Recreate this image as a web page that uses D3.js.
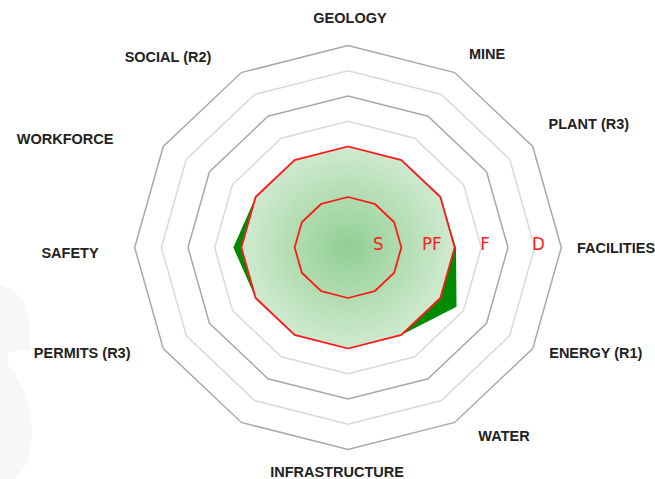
<!DOCTYPE html>
<html><head><meta charset="utf-8">
<script src="https://cdn.jsdelivr.net/npm/d3@7"></script>
<style>body{margin:0;background:#fff;overflow:hidden}</style>
</head><body><svg id="c" width="655" height="479"></svg>
<script>
// ---- data ----
const categories = ["GEOLOGY","MINE","PLANT (R3)","FACILITIES","ENERGY (R1)","WATER","INFRASTRUCTURE","","PERMITS (R3)","SAFETY","WORKFORCE","SOCIAL (R2)"];
const projectValues = [4, 4, 4, 4.05, 4.7, 4, 4, 4, 4, 4.3, 4, 4];
const pfValues = [4, 4, 4, 4, 4, 4, 4, 4, 4, 4, 4, 4];
const sValues  = [2, 2, 2, 2, 2, 2, 2, 2, 2, 2, 2, 2];
const gridLevels = [1, 2, 3, 4, 5, 6, 7, 8];
const levelLabels = ["S", "PF", "F", "D"];
const levelLabelValues = [2, 4, 6, 8];

// ---- layout ----
const W = 655, H = 479;
const cx = 348, cy = 247.5, sx = 1.056;
const maxLevel = 8, outerR = 202;
const labelAx = 270, labelAy = 228;
const labelNudge = [[2,-1.5],[4,4],[7,-10],[-2,0],[14,-9],[21,-9],[-11,-4],[0,0],[-32,-9],[-8,5],[-49,5],[-45,7]];

const svg = d3.select("#c");
const r = d3.scaleLinear().domain([0, maxLevel]).range([0, outerR]);
const ang = d3.scalePoint().domain(d3.range(categories.length)).range([0, 2*Math.PI*(categories.length-1)/categories.length]);
const px = (i, v) => cx + r(v) * Math.sin(ang(i)) * sx;
const py = (i, v) => cy - r(v) * Math.cos(ang(i));
const ring = vals => d3.line().x((d,i)=>px(i,d)).y((d,i)=>py(i,d)).curve(d3.curveLinearClosed)(vals);

// faint watermark at left edge
svg.append("path")
  .attr("d", "M0,285 C18,290 30,305 30,330 L30,350 L8,352 L8,365 C20,380 32,400 32,430 C32,455 25,470 15,479 L0,479 Z")
  .attr("fill", "#f7f7f7");

// grid rings
svg.append("g").selectAll("path").data(gridLevels).join("path")
  .attr("d", l => ring(categories.map(() => l)))
  .attr("fill", "none")
  .attr("stroke", l => l % 2 === 0 ? "#a9a9a9" : "#d9d9d9")
  .attr("stroke-width", 1.5);

// gradient
const defs = svg.append("defs");
const grad = defs.append("radialGradient").attr("id", "g1")
  .attr("gradientUnits", "userSpaceOnUse")
  .attr("cx", cx).attr("cy", cy).attr("r", r(4) * sx)
  .attr("gradientTransform", `translate(${cx},${cy}) scale(1,${1/sx}) translate(${-cx},${-cy})`);
grad.append("stop").attr("offset", "0%").attr("stop-color", "#92cf92");
grad.append("stop").attr("offset", "100%").attr("stop-color", "#d0ead0");

// project series (solid green)
svg.append("path").attr("d", ring(projectValues)).attr("fill", "#008a00").attr("stroke", "none");
// PF area with gradient
svg.append("path").attr("d", ring(pfValues)).attr("fill", "url(#g1)").attr("stroke", "#ff1a1a").attr("stroke-width", 1.8).attr("stroke-linejoin", "round");
// S ring
svg.append("path").attr("d", ring(sValues)).attr("fill", "none").attr("stroke", "#ff1a1a").attr("stroke-width", 1.8).attr("stroke-linejoin", "round");

// level labels
svg.append("g").selectAll("text").data(levelLabels).join("text")
  .attr("x", (d,i) => cx + r(levelLabelValues[i] - 0.86) * sx)
  .attr("y", cy - 4)
  .attr("text-anchor", "middle")
  .attr("dominant-baseline", "central")
  .attr("font-family", "'Liberation Sans Narrow','Arial Narrow','DejaVu Sans Condensed',sans-serif")
  .attr("font-size", 18.5)
  .attr("fill", "#ff2020")
  .text(d => d);

// category labels
svg.append("g").selectAll("text").data(categories).join("text")
  .attr("x", (d,i) => cx + labelAx * Math.sin(ang(i)) + labelNudge[i][0])
  .attr("y", (d,i) => cy - labelAy * Math.cos(ang(i)) + labelNudge[i][1])
  .attr("text-anchor", "middle")
  .attr("dominant-baseline", "central")
  .attr("font-family", "'Liberation Sans',Arial,sans-serif")
  .attr("font-weight", "bold")
  .attr("font-size", 14.5)
  .attr("fill", "#222")
  .text(d => d);
</script></body></html>
